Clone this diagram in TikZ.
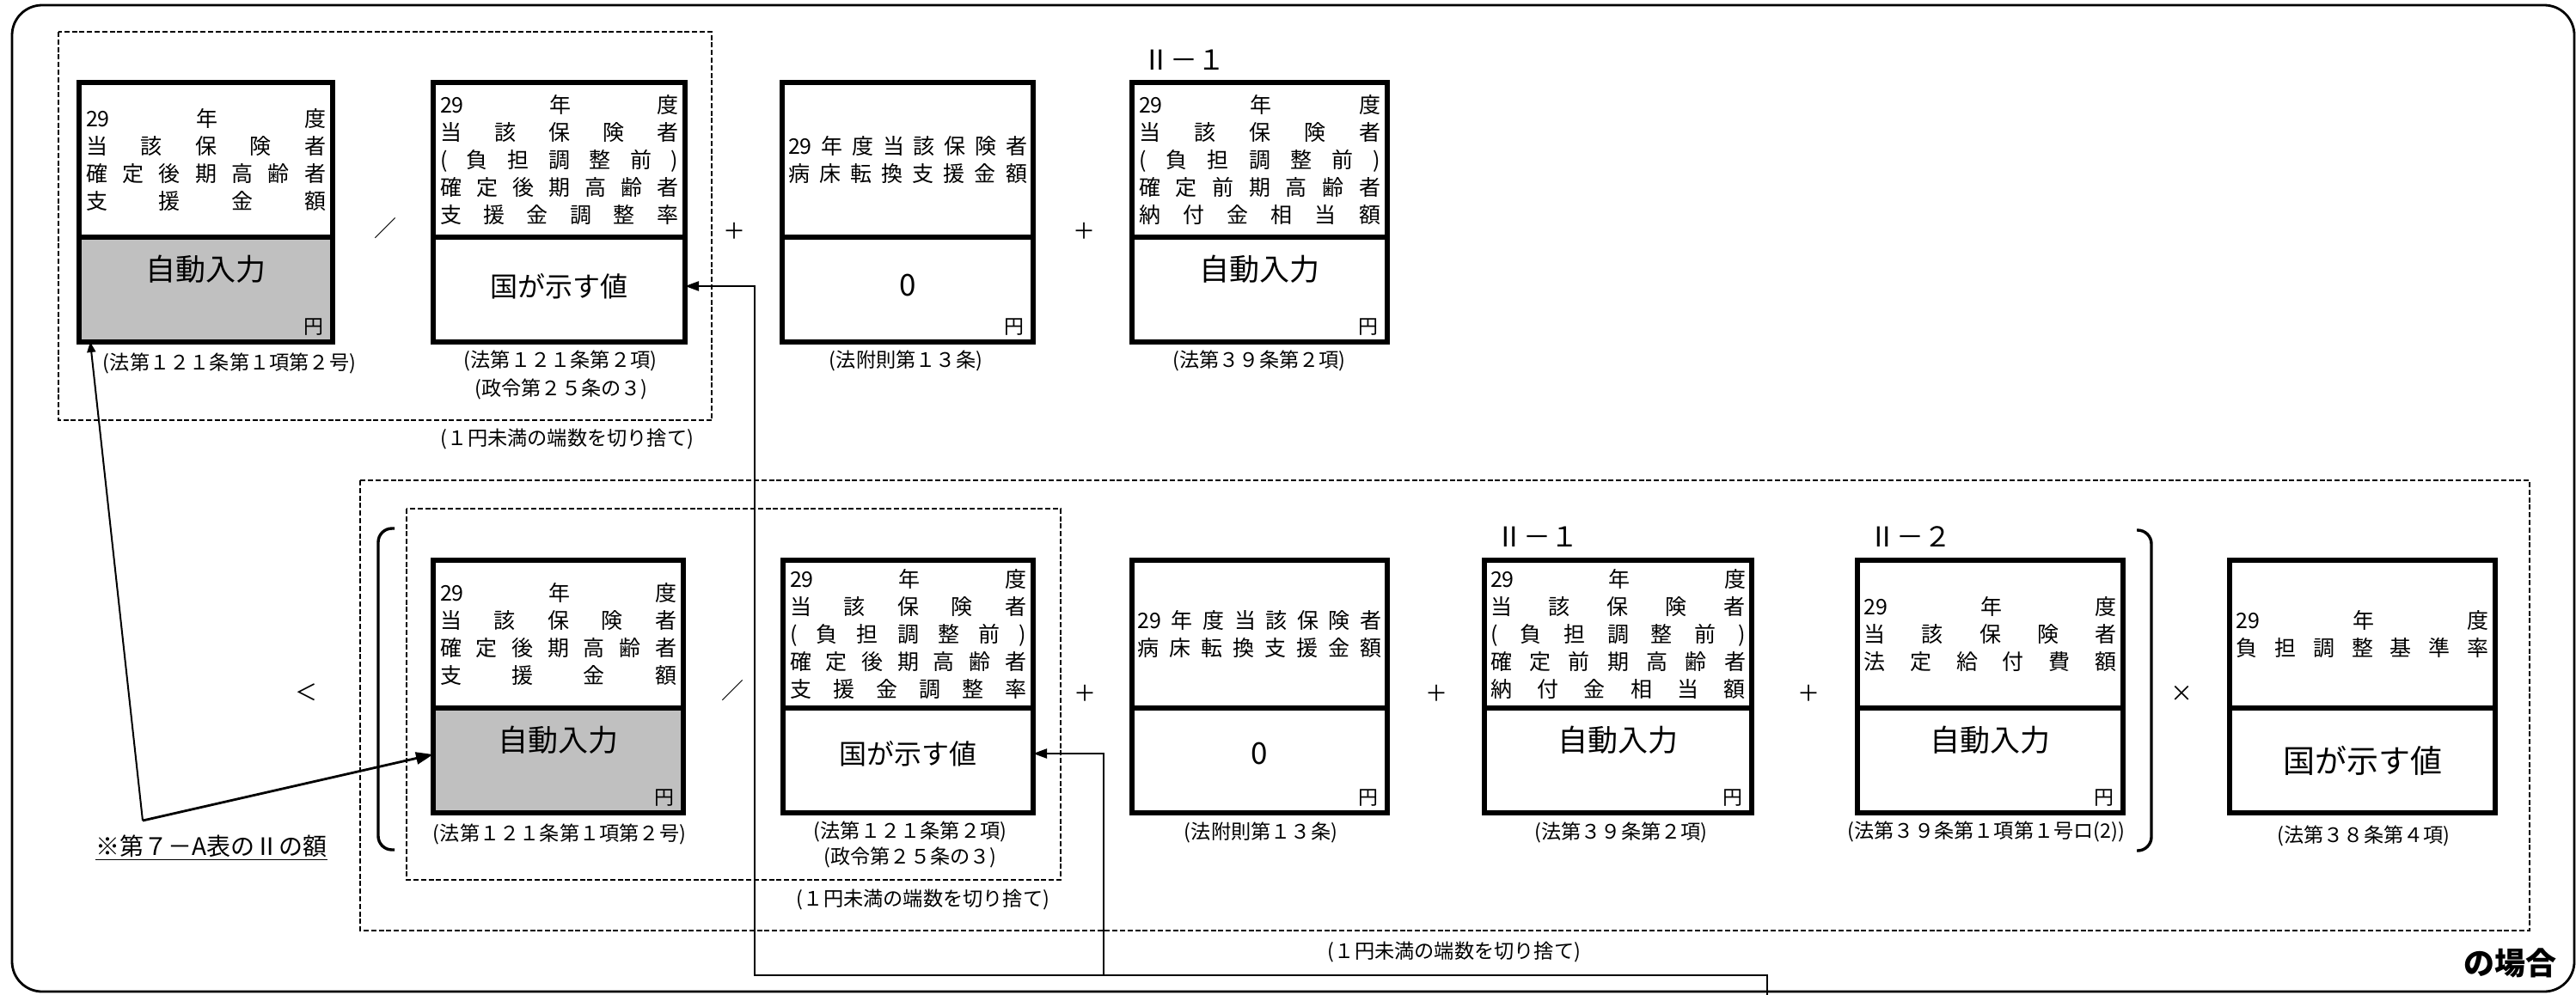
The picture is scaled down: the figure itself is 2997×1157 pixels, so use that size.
\documentclass[tikz,border=0pt]{standalone}
\usepackage{fontspec}
\setmainfont{Noto Sans CJK JP}
\usetikzlibrary{arrows.meta}
\definecolor{silver}{RGB}{192,192,192}
\newcommand\fsz[2]{\fontsize{#1}{#2}\selectfont}
\newcommand\jl[1]{\hbox to\hsize{#1}}
\newcommand\upl[2]{\vbox{\hsize=#1\baselineskip=16pt\lineskip=0pt\lineskiplimit=-100pt #2}}
\newcommand\formbox[7]{%
  \node[boxpart, fill=#7, minimum width={(#3-#2)*0.5pt}, minimum height={(#6-#5)*0.5pt}] (#1l) at (#2,#5) {};
  \node[boxpart, fill=white, minimum width={(#3-#2)*0.5pt}, minimum height={(#5-#4)*0.5pt}] (#1u) at (#2,#4) {};
}
\tikzset{
  boxpart/.style={draw, line width=2.8pt, inner sep=0pt, outer sep=0pt, anchor=north west},
  upt/.style={inner sep=0pt, font=\fsz{12.5}{16}},
  bigt/.style={inner sep=0pt, font=\fsz{17.5}{20}},
  valt/.style={inner sep=0pt, font=\fsz{16}{20}},
  yentxt/.style={inner sep=0pt, anchor=south east, font=\fsz{11.5}{14}},
  captxt/.style={inner sep=0pt, font=\fsz{11.6}{13}},
  optxt/.style={inner sep=0pt, font=\fsz{13}{16}},
  lbltxt/.style={inner sep=0pt, anchor=west, font=\fsz{16}{18}},
  dashframe/.style={line width=1.4pt, dash pattern=on 3pt off 1.4pt},
  arrA/.style={line width=1pt, -{Triangle[length=6pt,width=5pt]}},
  arrB/.style={line width=1.4pt, -{Triangle[length=10pt,width=7pt]}},
  arrC/.style={line width=1.1pt, -{Triangle[length=8pt,width=5.5pt]}},
}
\begin{document}
\begin{tikzpicture}[x=0.5pt,y=-0.5pt]
\useasboundingbox (0,0) rectangle (2997,1157);
% outer frame
\draw[line width=1.4pt, rounded corners=17.5pt] (14,6) rectangle (2995,1154);
% dashed frames
\draw[dashframe] (68,37) rectangle (828,489);
\draw[dashframe] (419,559) rectangle (2943,1083);
\draw[dashframe] (473,592) rectangle (1234,1024);

% ---------- top row ----------
\formbox{t1}{92}{387}{96}{276}{398}{silver}
\formbox{t2}{504}{797}{96}{276}{398}{white}
\formbox{t3}{910}{1202}{96}{276}{398}{white}
\formbox{t4}{1317}{1614}{96}{276}{398}{white}

\node[upt] (t1t) at (t1u.center) {\upl{139.5pt}{%
  \jl{29\hfill 年\hfill 度}\jl{当\hfill 該\hfill 保\hfill 険\hfill 者}%
  \jl{確\hfill 定\hfill 後\hfill 期\hfill 高\hfill 齢\hfill 者}\jl{支\hfill 援\hfill 金\hfill 額}}};
\node[upt] (t2t) at (t2u.center) {\upl{138.5pt}{%
  \jl{29\hfill 年\hfill 度}\jl{当\hfill 該\hfill 保\hfill 険\hfill 者}%
  \jl{(\hfill 負\hfill 担\hfill 調\hfill 整\hfill 前\hfill )}%
  \jl{確\hfill 定\hfill 後\hfill 期\hfill 高\hfill 齢\hfill 者}\jl{支\hfill 援\hfill 金\hfill 調\hfill 整\hfill 率}}};
\node[upt] (t3t) at (t3u.center) {\upl{139pt}{%
  \jl{29\hfill 年\hfill 度\hfill 当\hfill 該\hfill 保\hfill 険\hfill 者}%
  \jl{病\hfill 床\hfill 転\hfill 換\hfill 支\hfill 援\hfill 金\hfill 額}}};
\node[upt] (t4t) at (t4u.center) {\upl{140.5pt}{%
  \jl{29\hfill 年\hfill 度}\jl{当\hfill 該\hfill 保\hfill 険\hfill 者}%
  \jl{(\hfill 負\hfill 担\hfill 調\hfill 整\hfill 前\hfill )}%
  \jl{確\hfill 定\hfill 前\hfill 期\hfill 高\hfill 齢\hfill 者}\jl{納\hfill 付\hfill 金\hfill 相\hfill 当\hfill 額}}};

\node[bigt] (t1v) at ([yshift=-18.5pt]t1l.north) {自動入力};
\node[valt] (t2v) at ([yshift=-28.5pt]t2l.north) {国が示す値};
\node[bigt] (t3v) at ([yshift=-28pt]t3l.north) {0};
\node[bigt] (t4v) at ([yshift=-18.5pt]t4l.north) {自動入力};
\node[yentxt] (t1y) at ([xshift=-5.3pt,yshift=3.8pt]t1l.south east) {円};
\node[yentxt] (t3y) at ([xshift=-5.3pt,yshift=3.8pt]t3l.south east) {円};
\node[yentxt] (t4y) at ([xshift=-5.3pt,yshift=3.8pt]t4l.south east) {円};

\node[lbltxt] (t4n) at (1329,70) {Ⅱ－１};

\node[optxt] (o1) at (448,266) {／};
\node[optxt] (o2) at (854,269) {＋};
\node[optxt] (o3) at (1261,269) {＋};

\node[captxt] (t1c) at (267,423) {(法第１２１条第１項第２号)};
\node[captxt] (t2c) at (652,420) {(法第１２１条第２項)};
\node[captxt] (t2d) at (653,453) {(政令第２５条の３)};
\node[captxt] (t3c) at (1054,420) {(法附則第１３条)};
\node[captxt] (t4c) at (1465,420) {(法第３９条第２項)};
\node[captxt] (f1) at (660,511) {(１円未満の端数を切り捨て)};

% ---------- bottom row ----------
\formbox{b1}{504}{795}{652}{824}{946}{silver}
\formbox{b2}{911}{1202}{652}{824}{946}{white}
\formbox{b3}{1317}{1614}{652}{824}{946}{white}
\formbox{b4}{1727}{2038}{652}{824}{946}{white}
\formbox{b5}{2161}{2470}{652}{824}{946}{white}
\formbox{b6}{2594}{2903}{652}{824}{946}{white}

\node[upt] (b1t) at (b1u.center) {\upl{137.5pt}{%
  \jl{29\hfill 年\hfill 度}\jl{当\hfill 該\hfill 保\hfill 険\hfill 者}%
  \jl{確\hfill 定\hfill 後\hfill 期\hfill 高\hfill 齢\hfill 者}\jl{支\hfill 援\hfill 金\hfill 額}}};
\node[upt] (b2t) at (b2u.center) {\upl{137.5pt}{%
  \jl{29\hfill 年\hfill 度}\jl{当\hfill 該\hfill 保\hfill 険\hfill 者}%
  \jl{(\hfill 負\hfill 担\hfill 調\hfill 整\hfill 前\hfill )}%
  \jl{確\hfill 定\hfill 後\hfill 期\hfill 高\hfill 齢\hfill 者}\jl{支\hfill 援\hfill 金\hfill 調\hfill 整\hfill 率}}};
\node[upt] (b3t) at (b3u.center) {\upl{142pt}{%
  \jl{29\hfill 年\hfill 度\hfill 当\hfill 該\hfill 保\hfill 険\hfill 者}%
  \jl{病\hfill 床\hfill 転\hfill 換\hfill 支\hfill 援\hfill 金\hfill 額}}};
\node[upt] (b4t) at (b4u.center) {\upl{148.5pt}{%
  \jl{29\hfill 年\hfill 度}\jl{当\hfill 該\hfill 保\hfill 険\hfill 者}%
  \jl{(\hfill 負\hfill 担\hfill 調\hfill 整\hfill 前\hfill )}%
  \jl{確\hfill 定\hfill 前\hfill 期\hfill 高\hfill 齢\hfill 者}\jl{納\hfill 付\hfill 金\hfill 相\hfill 当\hfill 額}}};
\node[upt] (b5t) at (b5u.center) {\upl{147pt}{%
  \jl{29\hfill 年\hfill 度}\jl{当\hfill 該\hfill 保\hfill 険\hfill 者}%
  \jl{法\hfill 定\hfill 給\hfill 付\hfill 費\hfill 額}}};
\node[upt] (b6t) at (b6u.center) {\upl{147pt}{%
  \jl{29\hfill 年\hfill 度}\jl{負\hfill 担\hfill 調\hfill 整\hfill 基\hfill 準\hfill 率}}};

\node[bigt] (b1v) at ([yshift=-18.5pt]b1l.north) {自動入力};
\node[valt] (b2v) at ([yshift=-26.5pt]b2l.north) {国が示す値};
\node[bigt] (b3v) at ([yshift=-26.5pt]b3l.north) {0};
\node[bigt] (b4v) at ([yshift=-18.5pt]b4l.north) {自動入力};
\node[bigt] (b5v) at ([yshift=-18.5pt]b5l.north) {自動入力};
\node[inner sep=0pt, font=\fsz{18.5}{22}] (b6v) at ([yshift=-30.5pt]b6l.north) {国が示す値};
\node[yentxt] (b1y) at ([xshift=-5.3pt,yshift=3.8pt]b1l.south east) {円};
\node[yentxt] (b3y) at ([xshift=-5.3pt,yshift=3.8pt]b3l.south east) {円};
\node[yentxt] (b4y) at ([xshift=-5.3pt,yshift=3.8pt]b4l.south east) {円};
\node[yentxt] (b5y) at ([xshift=-5.3pt,yshift=3.8pt]b5l.south east) {円};

\node[lbltxt] (b4n) at (1740,625) {Ⅱ－１};
\node[lbltxt] (b5n) at (2174,625) {Ⅱ－２};

\node[optxt] (lt) at (356,806) {＜};
\node[optxt] (o4) at (852,804) {／};
\node[optxt] (o5) at (1262,807) {＋};
\node[optxt] (o6) at (1671,807) {＋};
\node[optxt] (o7) at (2104,807) {＋};
\node[optxt] (o8) at (2538,807) {×};

% brackets
\draw[line width=1.7pt, rounded corners=8pt] (459,615) -- (440,615) -- (440,989) -- (459,989);
\draw[line width=1.7pt, rounded corners=8pt] (2486,617) -- (2503,617) -- (2503,990) -- (2486,990);

\node[captxt] (b1c) at (651,971) {(法第１２１条第１項第２号)};
\node[captxt] (b2c) at (1059,968) {(法第１２１条第２項)};
\node[captxt] (b2d) at (1059,998) {(政令第２５条の３)};
\node[captxt] (f2) at (1074,1047) {(１円未満の端数を切り捨て)};
\node[captxt] (b3c) at (1467,969) {(法附則第１３条)};
\node[captxt] (b4c) at (1886,969) {(法第３９条第２項)};
\node[captxt] (b5c) at (2311,968) {(法第３９条第１項第１号ロ(2))};
\node[captxt] (b6c) at (2750,973) {(法第３８条第４項)};
\node[captxt] (f3) at (1692,1108) {(１円未満の端数を切り捨て)};

\node[inner sep=0pt, font=\fsz{14}{16}] (note) at (246,987) {\underline{※第７－A表のⅡの額}};
\node[inner sep=0pt, font=\fsz{18}{20}\bfseries] (baai) at (2920,1121) {の場合};

% connectors
\coordinate (src) at (166,955);
\draw[arrA] (src) -- ([xshift=6.5pt]t1l.south west);
\draw[arrB] (src) -- ([yshift=3.5pt]b1l.west);
\coordinate (exit) at (2056,1160);
\coordinate (busR) at (2056,1135);
\coordinate (busL) at (878,1135);
\coordinate (busM) at (1284,1135);
\draw[arrC] (exit) -- (busR) -- (busL) |- ([yshift=2pt]t2l.east);
\draw[arrC] (busM) |- ([yshift=4pt]b2l.east);
\end{tikzpicture}
\end{document}
